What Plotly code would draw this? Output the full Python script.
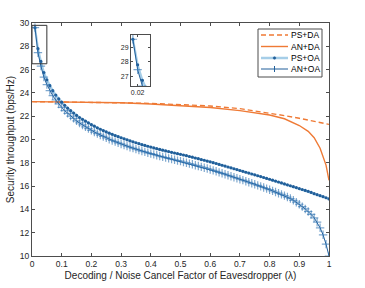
import plotly.graph_objects as go

# ---------------- data ----------------
lam = [round(0.01 * k, 2) for k in range(1, 101)]

ps_oa = [29.60, 27.80, 26.70, 25.75, 25.13, 24.62, 24.19, 23.82, 23.49, 23.20,
         22.93, 22.69, 22.47, 22.27, 22.07, 21.89, 21.73, 21.57, 21.42, 21.27,
         21.14, 21.01, 20.88, 20.77, 20.65, 20.54, 20.44, 20.34, 20.24, 20.15,
         20.06, 19.97, 19.88, 19.80, 19.72, 19.64, 19.56, 19.49, 19.42, 19.35,
         19.28, 19.21, 19.15, 19.08, 19.02, 18.96, 18.90, 18.84, 18.78, 18.73,
         18.67, 18.61, 18.54, 18.48, 18.41, 18.35, 18.28, 18.22, 18.15, 18.08,
         18.01, 17.94, 17.86, 17.79, 17.72, 17.64, 17.57, 17.49, 17.42, 17.34,
         17.27, 17.19, 17.12, 17.04, 16.97, 16.89, 16.82, 16.74, 16.66, 16.59,
         16.51, 16.43, 16.35, 16.27, 16.19, 16.11, 16.03, 15.95, 15.87, 15.79,
         15.71, 15.63, 15.55, 15.46, 15.35, 15.26, 15.18, 15.09, 15.00, 14.90]

an_oa = [29.60, 27.45, 26.30, 25.35, 24.71, 24.20, 23.76, 23.39, 23.05, 22.76,
         22.48, 22.24, 22.01, 21.81, 21.60, 21.42, 21.25, 21.09, 20.93, 20.78,
         20.64, 20.51, 20.38, 20.26, 20.14, 20.02, 19.92, 19.82, 19.71, 19.62,
         19.53, 19.43, 19.34, 19.26, 19.17, 19.09, 19.01, 18.94, 18.86, 18.79,
         18.72, 18.65, 18.58, 18.51, 18.45, 18.38, 18.32, 18.26, 18.19, 18.14,
         18.07, 18.01, 17.93, 17.87, 17.79, 17.73, 17.65, 17.58, 17.51, 17.43,
         17.35, 17.27, 17.18, 17.10, 17.02, 16.93, 16.85, 16.76, 16.68, 16.59,
         16.51, 16.42, 16.33, 16.24, 16.16, 16.06, 15.98, 15.88, 15.78, 15.69,
         15.59, 15.49, 15.39, 15.29, 15.18, 15.06, 14.93, 14.78, 14.62, 14.44,
         14.24, 14.04, 13.82, 13.57, 13.28, 12.90, 12.42, 11.82, 11.02, 10.00]

da_lam = [0.0, 0.1, 0.2, 0.3, 0.4, 0.5, 0.6, 0.7, 0.8, 0.85, 0.9, 0.93, 0.95,
          0.97, 0.98, 0.99, 1.0]
ps_da = [23.25, 23.23, 23.20, 23.15, 23.10, 23.00, 22.88, 22.65, 22.28, 22.05,
         21.82, 21.68, 21.58, 21.48, 21.43, 21.38, 21.30]
an_da = [23.25, 23.23, 23.20, 23.15, 23.05, 22.93, 22.75, 22.48, 22.10, 21.78,
         21.20, 20.70, 20.15, 19.25, 18.60, 17.80, 16.50]

x_ticks = [0, 0.1, 0.2, 0.3, 0.4, 0.5, 0.6, 0.7, 0.8, 0.9, 1]
x_tick_text = ["0", "0.1", "0.2", "0.3", "0.4", "0.5", "0.6", "0.7", "0.8", "0.9", "1"]
y_ticks = [10, 12, 14, 16, 18, 20, 22, 24, 26, 28, 30]

legend_names = ["PS+DA", "AN+DA", "PS+OA", "AN+OA"]

# ---------------- styling ----------------
W, H = 365, 288
L, R, T, B = 32, 36, 23, 32
ORANGE = "#ef7a35"
BLUE_D = "#215f9a"
BLUE_L = "rgba(0,114,189,0.35)"
BLUE_M = "rgba(40,110,175,0.6)"
AX = "#4d4d4d"
TXT = "#262626"
FONT = "Liberation Sans, Arial, Helvetica, sans-serif"
DASH = "5px,3px"


def px2paper(xp, yp):
    return (xp - L) / (W - L - R), (H - B - yp) / (H - T - B)


fig = go.Figure()


def add_series(xa, ya):
    fig.add_trace(go.Scatter(x=da_lam, y=ps_da, mode="lines",
                             line=dict(color=ORANGE, width=1.4, dash=DASH),
                             xaxis=xa, yaxis=ya, showlegend=False))
    fig.add_trace(go.Scatter(x=da_lam, y=an_da, mode="lines",
                             line=dict(color=ORANGE, width=1.4),
                             xaxis=xa, yaxis=ya, showlegend=False))
    fig.add_trace(go.Scatter(x=lam, y=ps_oa, mode="lines+markers",
                             line=dict(color=BLUE_L, width=2.2),
                             marker=dict(symbol="circle", size=3.2, color=BLUE_D),
                             xaxis=xa, yaxis=ya, showlegend=False))
    fig.add_trace(go.Scatter(x=lam, y=an_oa, mode="lines+markers",
                             line=dict(color=BLUE_D, width=1),
                             marker=dict(symbol="cross-thin", size=6,
                                         line=dict(color=BLUE_M, width=1.2)),
                             xaxis=xa, yaxis=ya, showlegend=False))


add_series("x", "y")
add_series("x2", "y2")

axis_common = dict(showline=True, linecolor=AX, linewidth=1, mirror="ticks",
                   ticks="inside", ticklen=3, tickcolor=AX, showgrid=False,
                   zeroline=False, tickfont=dict(family=FONT, size=8.5, color=TXT))

fig.update_layout(
    width=W, height=H,
    margin=dict(l=L, r=R, t=T, b=B, autoexpand=False),
    paper_bgcolor="white", plot_bgcolor="white",
    showlegend=False,
    xaxis=dict(range=[0, 1], tickvals=x_ticks, ticktext=x_tick_text,
               title=dict(text="Decoding / Noise Cancel Factor of Eavesdropper (λ)",
                          font=dict(family=FONT, size=10, color=TXT), standoff=3),
               **axis_common),
    yaxis=dict(range=[10, 30], tickvals=y_ticks,
               title=dict(text="Security throughput (bps/Hz)",
                          font=dict(family=FONT, size=10, color=TXT), standoff=3),
               **axis_common),
)

ix0, iy1 = px2paper(131, 35)
ix1, iy0 = px2paper(150, 86)
inset_axis = dict(showline=True, linecolor=AX, linewidth=1, mirror="ticks",
                  ticks="inside", ticklen=2, tickcolor=AX, showgrid=False,
                  zeroline=False, tickfont=dict(family=FONT, size=7, color=TXT))
fig.update_layout(
    xaxis2=dict(domain=[ix0, ix1], range=[0.006, 0.046], tickvals=[0.02],
                ticktext=["0.02"], anchor="y2", **inset_axis),
    yaxis2=dict(domain=[iy0, iy1], range=[26.3, 29.9], tickvals=[27, 28, 29],
                anchor="x2", **inset_axis),
)

# zoom rectangle in main axes
fig.add_shape(type="rect", xref="x", yref="y", x0=0, x1=0.05, y0=26.5, y1=29.8,
              line=dict(color="#333333", width=1))

# ---------------- legend (drawn) ----------------
lx0, ly0 = px2paper(258, 29)
lx1, ly1 = px2paper(322, 77)
fig.add_shape(type="rect", xref="paper", yref="paper", x0=lx0, x1=lx1, y0=ly1, y1=ly0,
              line=dict(color=AX, width=1), fillcolor="white", layer="above")
rows_y = [35, 46.5, 58, 69]
for name, yp in zip(legend_names, rows_y):
    ax0, ay = px2paper(261, yp)
    ax1, _ = px2paper(288, yp)
    amid, _ = px2paper(274.5, yp)
    if name == "PS+DA":
        fig.add_shape(type="line", xref="paper", yref="paper", x0=ax0, x1=ax1, y0=ay, y1=ay,
                      line=dict(color=ORANGE, width=1.4, dash=DASH), layer="above")
    elif name == "AN+DA":
        fig.add_shape(type="line", xref="paper", yref="paper", x0=ax0, x1=ax1, y0=ay, y1=ay,
                      line=dict(color=ORANGE, width=1.4), layer="above")
    elif name == "PS+OA":
        fig.add_shape(type="line", xref="paper", yref="paper", x0=ax0, x1=ax1, y0=ay, y1=ay,
                      line=dict(color=BLUE_L, width=2.5), layer="above")
        cx0, cy0 = px2paper(273.2, yp + 1.3)
        cx1, cy1 = px2paper(275.8, yp - 1.3)
        fig.add_shape(type="circle", xref="paper", yref="paper", x0=cx0, x1=cx1, y0=cy0, y1=cy1,
                      line=dict(color=BLUE_D, width=0.5), fillcolor=BLUE_D, layer="above")
    else:
        fig.add_shape(type="line", xref="paper", yref="paper", x0=ax0, x1=ax1, y0=ay, y1=ay,
                      line=dict(color=BLUE_D, width=1), layer="above")
        _, vy0 = px2paper(274.5, yp + 3)
        _, vy1 = px2paper(274.5, yp - 3)
        fig.add_shape(type="line", xref="paper", yref="paper", x0=amid, x1=amid, y0=vy0, y1=vy1,
                      line=dict(color=BLUE_D, width=1), layer="above")
    tx, _ = px2paper(289, yp)
    fig.add_annotation(x=tx, y=ay, xref="paper", yref="paper", text=name, showarrow=False,
                       xanchor="left", yanchor="middle",
                       font=dict(family=FONT, size=8.5, color="black"))

fig.write_html("out.html", config={"displayModeBar": False},
               post_script="document.body.style.margin='0px';document.body.style.overflow='hidden';")
